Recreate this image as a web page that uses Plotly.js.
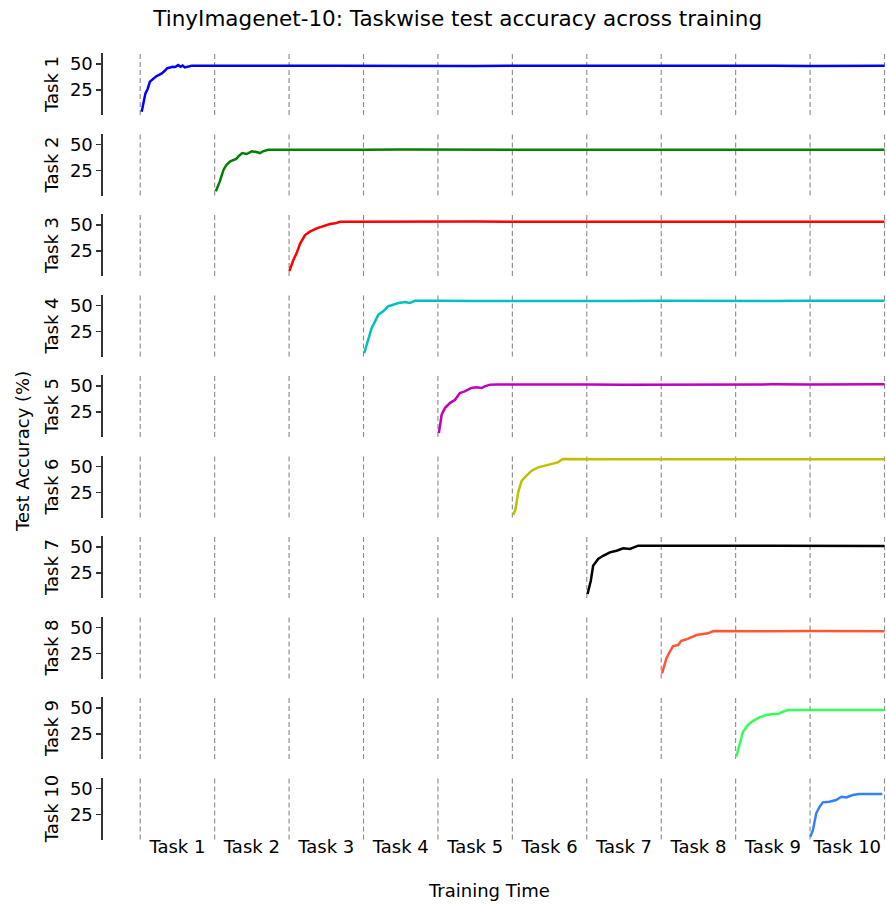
<!DOCTYPE html>
<html>
<head>
<meta charset="utf-8">
<script src="https://cdn.plot.ly/plotly-3.0.1.min.js"></script>
<style>
  html, body { margin: 0; padding: 0; background: #ffffff; }
  #chart { width: 887px; height: 905px; }
</style>
</head>
<body>
<div id="chart"></div>
<script>
// Training time is measured in task units: task k is trained between k-1 and k.
const taskLabels = ["Task 1", "Task 2", "Task 3", "Task 4", "Task 5",
                    "Task 6", "Task 7", "Task 8", "Task 9", "Task 10"];
const taskBoundaries = [0, 1, 2, 3, 4, 5, 6, 7, 8, 9, 10];
const lineColors = ["#0000ff", "#008000", "#ff0000", "#00bfbf", "#bf00bf",
                    "#bfbf00", "#000000", "#ff5733", "#33ff57", "#3380ff"];

// Test accuracy (%) of each task, evaluated along training.
const time1 = [0.02, 0.04, 0.07, 0.10, 0.13, 0.17, 0.22, 0.26, 0.29, 0.33, 0.36, 0.40, 0.43, 0.47, 0.51, 0.54, 0.57, 0.60, 0.64, 0.69, 0.80, 1.0, 1.5, 2.0, 2.5, 3.0, 3.5, 4.0, 4.5, 5.0, 5.5, 6.0, 6.5, 7.0, 7.5, 8.0, 8.5, 9.0, 9.5, 10.0];
const acc1  = [4.1, 12.5, 21.8, 26.0, 33.0, 35.5, 38.5, 39.8, 41.0, 43.5, 45.8, 46.6, 47.4, 47.2, 49.0, 47.3, 48.5, 46.8, 47.6, 48.4, 48.3, 48.4, 48.2, 48.4, 48.3, 48.1, 48.3, 48.4, 48.2, 48.3, 48.0, 48.3, 48.4, 48.2, 48.3, 48.1, 48.3, 48.2, 48.4, 48.3];

const time2 = [1.016, 1.04, 1.07, 1.12, 1.16, 1.21, 1.25, 1.29, 1.32, 1.37, 1.43, 1.50, 1.56, 1.61, 1.65, 1.72, 1.80, 2.0, 2.5, 3.0, 3.5, 4.0, 4.5, 5.0, 5.5, 6.0, 6.5, 7.0, 7.5, 8.0, 8.5, 9.0, 9.5, 10.0];
const acc2  = [5.0, 9.0, 14.6, 25.8, 30.6, 33.8, 35.4, 36.2, 38.6, 41.8, 40.9, 43.5, 42.8, 41.8, 43.5, 45.0, 45.0, 45.1, 44.9, 45.0, 45.1, 45.0, 44.9, 45.0, 45.1, 45.0, 44.9, 45.0, 45.0, 45.1, 44.9, 45.0, 45.0, 45.0];

const time3 = [2.004, 2.03, 2.058, 2.10, 2.15, 2.215, 2.28, 2.37, 2.46, 2.55, 2.62, 2.685, 2.80, 3.0, 3.5, 4.0, 4.5, 5.0, 5.5, 6.0, 6.5, 7.0, 7.5, 8.0, 8.5, 9.0, 9.5, 10.0];
const acc3  = [5.8, 11.0, 16.3, 22.8, 32.4, 40.4, 43.6, 46.8, 49.0, 51.0, 51.6, 53.2, 53.1, 53.2, 53.0, 53.2, 53.3, 53.1, 53.2, 53.3, 53.2, 53.1, 53.2, 53.3, 53.2, 53.1, 53.2, 53.2];

const time4 = [3.01, 3.065, 3.11, 3.155, 3.20, 3.265, 3.33, 3.40, 3.47, 3.56, 3.62, 3.69, 3.80, 4.0, 4.5, 5.0, 5.5, 6.0, 6.5, 7.0, 7.5, 8.0, 8.5, 9.0, 9.5, 10.0];
const acc4  = [4.3, 18.8, 28.4, 34.8, 41.2, 44.4, 49.2, 50.8, 52.4, 53.4, 52.4, 54.6, 54.4, 54.5, 54.3, 54.5, 54.4, 54.6, 54.4, 54.5, 54.3, 54.5, 54.4, 54.5, 54.4, 54.5];

const time5 = [4.013, 4.03, 4.05, 4.094, 4.16, 4.23, 4.295, 4.36, 4.45, 4.52, 4.585, 4.63, 4.70, 4.80, 5.0, 5.5, 6.0, 6.5, 7.0, 7.5, 8.0, 8.5, 9.0, 9.5, 10.0];
const acc5  = [4.8, 13.0, 22.4, 28.8, 33.6, 36.8, 43.3, 44.9, 48.1, 48.7, 48.1, 49.7, 51.3, 51.4, 51.3, 51.5, 51.4, 51.3, 51.5, 51.4, 51.5, 51.6, 51.5, 51.6, 51.7];

const time6 = [5.011, 5.043, 5.078, 5.124, 5.19, 5.26, 5.345, 5.436, 5.525, 5.61, 5.68, 5.80, 6.0, 6.5, 7.0, 7.5, 8.0, 8.5, 9.0, 9.5, 10.0];
const acc6  = [3.4, 9.1, 25.2, 36.3, 41.2, 46.0, 49.2, 50.8, 52.4, 54.0, 57.2, 57.1, 57.2, 57.0, 57.1, 57.2, 57.1, 57.0, 57.1, 57.2, 57.1];

const time7 = [6.01, 6.054, 6.085, 6.152, 6.22, 6.31, 6.40, 6.49, 6.58, 6.64, 6.69, 6.80, 7.0, 7.5, 8.0, 8.5, 9.0, 9.5, 10.0];
const acc7  = [4.8, 17.6, 32.0, 38.5, 41.6, 44.9, 46.4, 48.7, 48.1, 49.7, 51.3, 51.2, 51.3, 51.1, 51.3, 51.2, 51.1, 51.2, 51.1];

const time8 = [7.011, 7.07, 7.114, 7.159, 7.226, 7.27, 7.34, 7.406, 7.473, 7.56, 7.63, 7.70, 7.80, 8.0, 8.5, 9.0, 9.5, 10.0];
const acc8  = [6.0, 20.4, 26.7, 32.2, 33.2, 37.3, 38.7, 40.6, 42.8, 43.8, 44.4, 46.6, 46.5, 46.6, 46.4, 46.6, 46.5, 46.4];

const time9 = [8.009, 8.054, 8.098, 8.165, 8.23, 8.32, 8.41, 8.50, 8.57, 8.635, 8.70, 8.80, 9.0, 9.5, 10.0];
const acc9  = [3.2, 16.0, 27.2, 33.7, 37.5, 41.0, 43.3, 44.2, 44.2, 46.4, 48.1, 48.0, 48.1, 48.0, 48.1];

const time10 = [9.003, 9.038, 9.083, 9.128, 9.172, 9.26, 9.35, 9.42, 9.485, 9.574, 9.66, 9.80, 9.97];
const acc10  = [3.7, 10.0, 26.2, 32.5, 36.7, 37.3, 38.9, 42.1, 41.5, 43.8, 44.7, 44.7, 44.7];

const taskTimes = [time1, time2, time3, time4, time5, time6, time7, time8, time9, time10];
const taskAccs  = [acc1, acc2, acc3, acc4, acc5, acc6, acc7, acc8, acc9, acc10];

const yTickVals = [25, 50];
const yRange = [1.0, 60.6];

// Figure geometry (pixels) for the ten stacked panels.
const W = 887, H = 905;
const marginL = 103, marginR = 1, marginT = 53, marginB = 65;
const plotH = H - marginT - marginB;
const panelH = 62, panelPitch = 80.5;

const FONT = "DejaVu Sans, sans-serif";
const tickSize = 18;

const traces = [];
const shapes = [];
const layout = {
  width: W, height: H,
  margin: { l: marginL, r: marginR, t: marginT, b: marginB },
  paper_bgcolor: "#ffffff",
  plot_bgcolor: "#ffffff",
  showlegend: false,
  font: { family: FONT, color: "#000000", size: tickSize },
  title: {
    text: "TinyImagenet-10: Taskwise test accuracy across training",
    font: { family: FONT, size: 21.5, color: "#000000" },
    xref: "container", x: 0.516, xanchor: "center",
    yref: "container", y: 1 - 18 / H, yanchor: "middle"
  },
  xaxis: {
    range: [-0.5, 10.02],
    anchor: "y10",
    tickvals: taskBoundaries.slice(0, 10).map(b => b + 0.5),
    ticktext: taskLabels,
    ticks: "",
    ticklabelstandoff: -6,
    showline: false, showgrid: false, zeroline: false,
    tickfont: { family: FONT, size: tickSize, color: "#000000" }
  },
  annotations: [
    {
      text: "Training Time", showarrow: false,
      xref: "paper", yref: "paper",
      x: (489 - marginL) / (W - marginL - marginR), y: -(890 - (H - marginB)) / plotH,
      xanchor: "center", yanchor: "middle",
      font: { family: FONT, size: tickSize, color: "#000000" }
    },
    {
      text: "Test Accuracy (%)", showarrow: false, textangle: -90,
      xref: "paper", yref: "paper",
      x: -(marginL - 22) / (W - marginL - marginR), y: ((H - marginB) - 452) / plotH,
      xanchor: "center", yanchor: "middle",
      font: { family: FONT, size: tickSize, color: "#000000" }
    }
  ],
  shapes: shapes
};

for (let k = 0; k < 10; k++) {
  const axName = k === 0 ? "y" : "y" + (k + 1);
  const layoutKey = k === 0 ? "yaxis" : "yaxis" + (k + 1);
  const topPx = marginT + panelPitch * k;
  const botPx = topPx + panelH;
  layout[layoutKey] = {
    domain: [((H - marginB) - botPx) / plotH, ((H - marginB) - topPx) / plotH],
    range: yRange,
    anchor: "x",
    tickvals: yTickVals,
    ticks: "outside", ticklen: 5, tickwidth: 1.2, tickcolor: "#333333",
    showline: true, linecolor: "#333333", linewidth: 1.6,
    showgrid: false, zeroline: false,
    tickfont: { family: FONT, size: tickSize, color: "#000000" },
    title: { text: taskLabels[k], standoff: 6, font: { family: FONT, size: tickSize, color: "#000000" } }
  };

  // Dashed markers at every task boundary.
  taskBoundaries.forEach(b => {
    shapes.push({
      type: "line", layer: "below",
      xref: "x", yref: axName + " domain",
      x0: b, x1: b, y0: 0, y1: 1,
      line: { color: "#8a8a8a", width: 1.1, dash: "5px,3px" }
    });
  });

  traces.push({
    type: "scatter", mode: "lines",
    x: taskTimes[k], y: taskAccs[k],
    xaxis: "x", yaxis: axName,
    line: { color: lineColors[k], width: 2.5 },
    hoverinfo: "skip"
  });
}

Plotly.newPlot("chart", traces, layout, { displayModeBar: false, staticPlot: true });
</script>
</body>
</html>
